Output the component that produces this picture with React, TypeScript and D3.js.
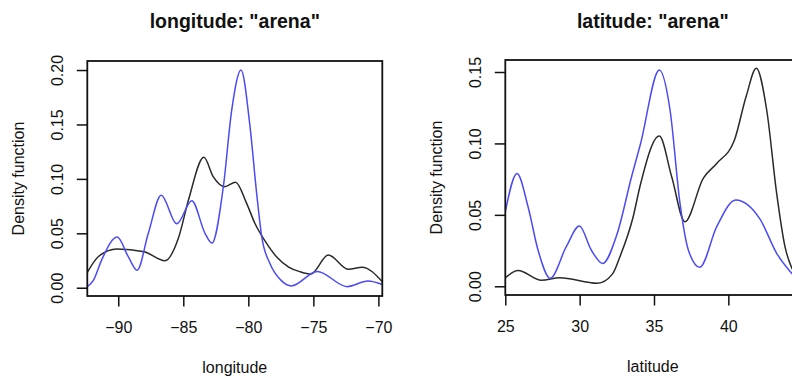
import React, { useRef, useEffect } from "react";
import * as d3 from "d3";

// longitude panel
const lonBlueX = [-92.38, -91.9, -91.28, -90.08, -89.23, -88.55, -87.69, -86.7, -85.5, -84.35, -83.33, -82.8, -81.92, -81.28, -80.56, -79.87, -79.36, -78.97, -78.33, -77.5, -76.68, -74.7, -72.4, -70.8, -69.7];
const lonBlueY = [0.001, 0.007, 0.0254, 0.0465, 0.0285, 0.016, 0.05, 0.085, 0.0587, 0.08, 0.05, 0.041, 0.0928, 0.163, 0.2, 0.148, 0.0867, 0.047, 0.022, 0.007, 0.0017, 0.015, 0.001, 0.0062, 0.003];
const lonBlackX = [-92.38, -91.54, -90.1, -88.0, -86.41, -85.38, -84.6, -83.42, -82.7, -81.82, -80.98, -80.13, -79.49, -78.72, -77.8, -76.9, -76.02, -75.2, -73.85, -72.3, -71.25, -69.7];
const lonBlackY = [0.014, 0.0285, 0.0356, 0.033, 0.0248, 0.0454, 0.0806, 0.1198, 0.102, 0.0928, 0.097, 0.0775, 0.059, 0.043, 0.028, 0.019, 0.0147, 0.0126, 0.03, 0.0169, 0.0188, 0.0055];
const lonTicks = [-90, -85, -80, -75, -70];
const lonDensTicks = [0, 0.05, 0.1, 0.15, 0.2];

// latitude panel
const latBlueX = [24.98, 25.79, 26.53, 27.2, 28.02, 29.1, 29.98, 30.78, 31.55, 32.5, 33.5, 34.1, 35.36, 36.08, 36.75, 37.31, 38.08, 39.22, 40.5, 42.13, 43.25, 44.3];
const latBlueY = [0.051, 0.079, 0.0557, 0.0254, 0.0056, 0.0277, 0.0422, 0.0254, 0.016, 0.036, 0.077, 0.1, 0.1514, 0.1234, 0.058, 0.0254, 0.0133, 0.0417, 0.0604, 0.047, 0.0231, 0.0086];
const latBlackX = [24.98, 25.86, 27.43, 28.66, 31.2, 32.2, 32.71, 33.6, 34.06, 35.36, 36.19, 37.08, 38.31, 39.22, 40.4, 41.2, 41.88, 42.58, 43.25, 43.81, 44.3];
const latBlackY = [0.0058, 0.011, 0.0042, 0.006, 0.0021, 0.0085, 0.0207, 0.0487, 0.07, 0.1052, 0.0767, 0.0452, 0.0756, 0.086, 0.102, 0.133, 0.1526, 0.1234, 0.065, 0.0277, 0.012];
const latTicks = [25, 30, 35, 40];
const latDensTicks = [0, 0.05, 0.1, 0.15];

const FONT = "Liberation Sans, Arial, Helvetica, sans-serif";

export default function App() {
  const svgRef = useRef<SVGSVGElement>(null);

  useEffect(() => {
    if (!svgRef.current) return;
    const svg = d3.select(svgRef.current);
    svg.selectAll("*").remove();

    const panels = [
      {
        id: "lon",
        title: 'longitude: "arena"',
        xlab: "longitude",
        box: { left: 87.3, right: 382.3, top: 61, bottom: 296 },
        xDomain: [-92.38, -69.7],
        yDomain: [-0.0076, 0.2083],
        xTicks: lonTicks,
        yTicks: lonDensTicks,
        blue: lonBlueX.map((x, i) => [x, lonBlueY[i]]),
        black: lonBlackX.map((x, i) => [x, lonBlackY[i]]),
      },
      {
        id: "lat",
        title: 'latitude: "arena"',
        xlab: "latitude",
        box: { left: 505.3, right: 800.3, top: 60, bottom: 295 },
        xDomain: [25, 44.84],
        yDomain: [-0.0061, 0.1584],
        xTicks: latTicks,
        yTicks: latDensTicks,
        blue: latBlueX.map((x, i) => [x, latBlueY[i]]),
        black: latBlackX.map((x, i) => [x, latBlackY[i]]),
      },
    ];

    const fmtX = (d: number) => (d < 0 ? "\u2212" + Math.abs(d) : String(d));

    panels.forEach((p) => {
      const { box } = p;
      const x = d3.scaleLinear().domain(p.xDomain).range([box.left, box.right]);
      const y = d3.scaleLinear().domain(p.yDomain).range([box.bottom, box.top]);
      const g = svg.append("g");

      g.append("clipPath")
        .attr("id", `clip-${p.id}`)
        .append("rect")
        .attr("x", box.left)
        .attr("y", box.top)
        .attr("width", box.right - box.left)
        .attr("height", box.bottom - box.top);

      const line = d3.line<number[]>()
        .x((d) => x(d[0]))
        .y((d) => y(d[1]))
        .curve(d3.curveMonotoneX);

      // black curve, then blue on top
      g.append("path")
        .datum(p.black)
        .attr("clip-path", `url(#clip-${p.id})`)
        .attr("fill", "none")
        .attr("stroke", "#2a2a2a")
        .attr("stroke-width", 1.5)
        .attr("d", line);
      g.append("path")
        .datum(p.blue)
        .attr("clip-path", `url(#clip-${p.id})`)
        .attr("fill", "none")
        .attr("stroke", "#4b4bf5")
        .attr("stroke-width", 1.5)
        .attr("d", line);

      // box
      g.append("rect")
        .attr("x", box.left)
        .attr("y", box.top)
        .attr("width", box.right - box.left)
        .attr("height", box.bottom - box.top)
        .attr("fill", "none")
        .attr("stroke", "#111")
        .attr("stroke-width", 1.8);

      // x axis
      g.append("g")
        .attr("transform", `translate(0,${box.bottom})`)
        .call(d3.axisBottom(x).tickValues(p.xTicks).tickSize(10.5).tickPadding(14).tickFormat((d) => fmtX(+d)))
        .call((a) => a.select(".domain").remove())
        .call((a) => a.selectAll(".tick line").attr("stroke", "#111").attr("stroke-width", 1.5))
        .call((a) => a.selectAll(".tick text")
          .attr("fill", "#111")
          .attr("font-size", "16px")
          .attr("font-family", FONT)
          .attr("y", 31.7)
          .attr("dy", null)
          .attr("dominant-baseline", "central"));

      // y axis (labels parallel to the axis, as R does)
      g.append("g")
        .attr("transform", `translate(${box.left},0)`)
        .call(d3.axisLeft(y).tickValues(p.yTicks).tickSize(10.5).tickFormat(d3.format(".2f")))
        .call((a) => a.select(".domain").remove())
        .call((a) => a.selectAll(".tick line").attr("stroke", "#111").attr("stroke-width", 1.5))
        .call((a) => a.selectAll(".tick text")
          .attr("fill", "#111")
          .attr("font-size", "16px")
          .attr("font-family", FONT)
          .attr("x", null)
          .attr("dy", null)
          .attr("text-anchor", "middle")
          .attr("dominant-baseline", "central")
          .attr("transform", "translate(-29.8,0) rotate(-90)"));

      const cx = (box.left + box.right) / 2;
      const cy = (box.top + box.bottom) / 2;

      g.append("text")
        .attr("x", cx)
        .attr("y", 20.5)
        .attr("text-anchor", "middle")
        .attr("dominant-baseline", "central")
        .attr("font-family", FONT)
        .attr("font-weight", "bold")
        .attr("font-size", "19.5px")
        .attr("fill", "#111")
        .text(p.title);

      g.append("text")
        .attr("x", cx)
        .attr("y", box.bottom + 71)
        .attr("text-anchor", "middle")
        .attr("dominant-baseline", "central")
        .attr("font-family", FONT)
        .attr("font-size", "16px")
        .attr("fill", "#111")
        .text(p.xlab);

      g.append("text")
        .attr("transform", `translate(${box.left - 69},${cy}) rotate(-90)`)
        .attr("text-anchor", "middle")
        .attr("dominant-baseline", "central")
        .attr("font-family", FONT)
        .attr("font-size", "16px")
        .attr("fill", "#111")
        .text("Density function");
    });
  }, []);

  return (
    <svg
      ref={svgRef}
      width={792}
      height={378}
      style={{ position: "absolute", left: 0, top: 0, background: "#fff" }}
    />
  );
}
